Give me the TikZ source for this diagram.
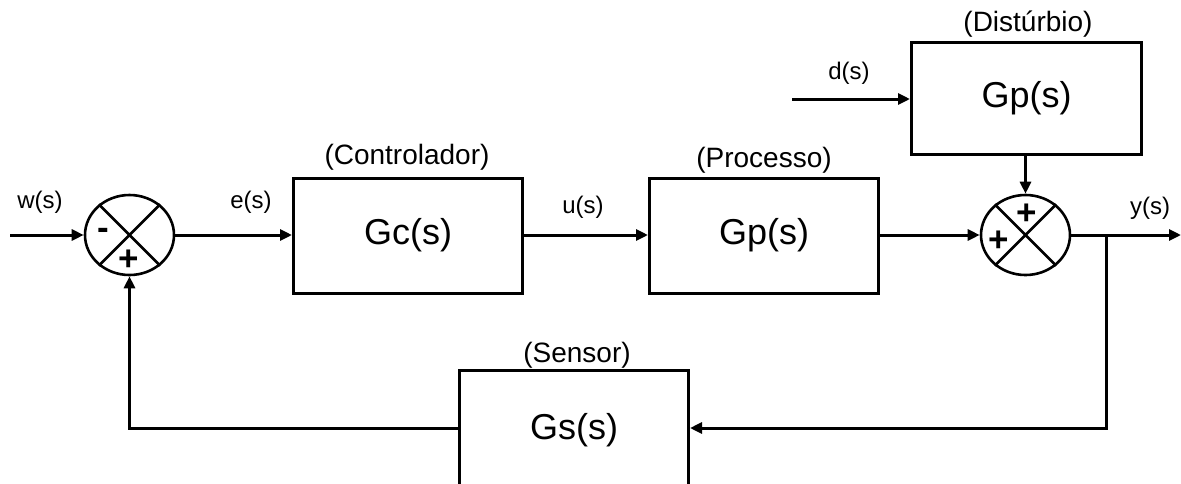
\documentclass[tikz,border=0pt]{standalone}
\usepackage{fontspec}
\setmainfont{Liberation Sans}
\usetikzlibrary{arrows.meta,shapes.geometric}
\begin{document}
\begin{tikzpicture}[x=1pt,y=-1pt,
  line width=3pt,
  blk/.style={draw,rectangle,minimum width=229pt,minimum height=115pt,font=\fontsize{36}{40}\selectfont,inner sep=0pt},
  sumj/.style={draw,ellipse,line width=2.6pt,minimum width=89pt,minimum height=80pt,inner sep=0pt},
  ttl/.style={font=\fontsize{28}{32}\selectfont,inner sep=0pt},
  lbl/.style={font=\fontsize{24}{28}\selectfont,inner sep=0pt},
  sgn/.style={font=\fontsize{35}{36}\selectfont\bfseries,inner sep=0pt},
  arr/.style={-{Triangle[length=12pt,width=11pt]}}]
\useasboundingbox (0,0) rectangle (1181,483);
\clip (0,0) rectangle (1181,483);
% summing junctions
\node[sumj] (s1) at (129.5,235) {};
\node[sumj] (s2) at (1025.5,235) {};
\draw[line width=2.6pt] (s1.45) -- (s1.225) (s1.135) -- (s1.315);
\draw[line width=2.6pt] (s2.45) -- (s2.225) (s2.135) -- (s2.315);
\node[sgn] (m1) at (103,234) {-};
\node[sgn] (p1) at (129,260) {+};
\node[sgn] (p2) at (1027,214) {+};
\node[sgn] (p3) at (999,241) {+};
% blocks
\node[blk] (gc) at (408,235.5) {Gc(s)};
\node[blk] (gp) at (764,235.5) {Gp(s)};
\node[blk,minimum width=230pt,minimum height=112pt] (gd) at (1026.5,98.5) {Gp(s)};
\node[blk,minimum width=229pt,minimum height=160pt] (gs) at (574,450) {};
\node[font=\fontsize{36}{40}\selectfont,inner sep=0pt] (gst) at (574,430) {Gs(s)};
% block titles
\node[ttl] (tc) at (407,157.5) {(Controlador)};
\node[ttl] (tp) at (764,160) {(Processo)};
\node[ttl] (td) at (1028,24) {(Distúrbio)};
\node[ttl] (ts) at (577,355) {(Sensor)};
% signal labels
\node[lbl] (lw) at (40,202) {w(s)};
\node[lbl] (le) at (251,202) {e(s)};
\node[lbl] (lu) at (583,207) {u(s)};
\node[lbl] (ld) at (849,73) {d(s)};
\node[lbl] (ly) at (1150,208) {y(s)};
% coordinates
\coordinate (win) at (10,235);
\coordinate (din) at (792,99);
\coordinate (yout) at (1181,235);
\coordinate (br) at (1106,235);
\coordinate (brd) at (1106,428);
\coordinate (fbl) at (129.5,428);
% connectors
\draw[arr] (win) -- (s1.west);
\draw[arr] (s1.east) -- (gc.west |- s1.east);
\draw[arr] (gc.east |- s1.east) -- (gp.west |- s1.east);
\draw[arr] (gp.east |- s2.west) -- (s2.west);
\draw[arr] (din) -- (din -| gd.west);
\draw[arr] (gd.south -| s2.north) -- (s2.north);
\draw[arr] (s2.east) -- (yout);
\draw[arr] (br) -- (brd) -- (brd -| gs.east);
\draw[arr] (gs.west |- fbl) -- (fbl) -- (s1.south);
\end{tikzpicture}
\end{document}
